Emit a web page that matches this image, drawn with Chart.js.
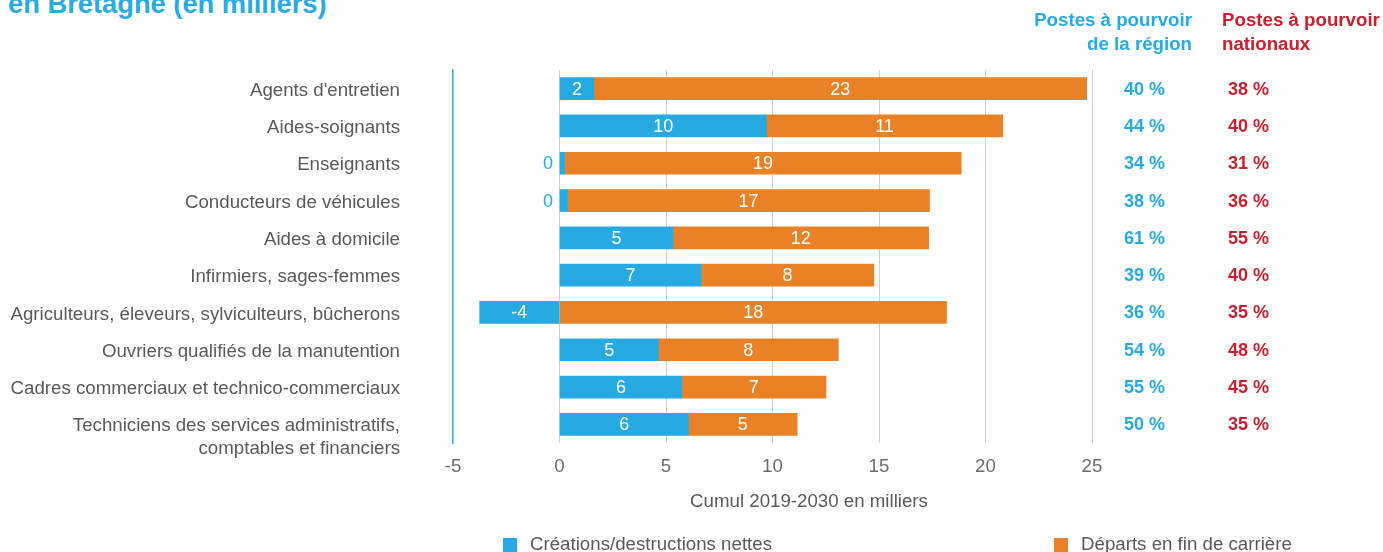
<!DOCTYPE html>
<html><head><meta charset="utf-8">
<script src="https://cdn.jsdelivr.net/npm/chart.js@4/dist/chart.umd.min.js"></script>
<style>
html,body{margin:0;padding:0;background:#fff;overflow:hidden}
#wrap{position:relative;width:1383px;height:552px}
#title{position:absolute;left:8px;top:-10px;font:bold 27.3px "Liberation Sans",Arial,sans-serif;line-height:27px;color:#29abe2;white-space:nowrap}
canvas{position:absolute;left:0;top:0}
</style></head><body>
<div id="wrap"><div id="title">en Bretagne (en milliers)</div><canvas id="c" width="1383" height="552"></canvas></div>
<script>
const categories = [
  "Agents d'entretien",
  "Aides-soignants",
  "Enseignants",
  "Conducteurs de véhicules",
  "Aides à domicile",
  "Infirmiers, sages-femmes",
  "Agriculteurs, éleveurs, sylviculteurs, bûcherons",
  "Ouvriers qualifiés de la manutention",
  "Cadres commerciaux et technico-commerciaux",
  ["", "Techniciens des services administratifs,", "comptables et financiers"]
];
const netChange   = [1.61, 9.71, 0.24, 0.37, 5.33, 6.65, -3.75, 4.64, 5.74, 6.05];
const retirements = [23.14, 11.10, 18.62, 17.00, 12.00, 8.11, 18.17, 8.45, 6.77, 5.11];
const regionShare   = [40, 44, 34, 38, 61, 39, 36, 54, 55, 50];
const nationalShare = [38, 40, 31, 36, 55, 40, 35, 48, 45, 35];
const seriesLabels = ["Créations/destructions nettes", "Départs en fin de carrière"];
const regionHeader = ["Postes à pourvoir", "de la région"];
const nationalHeader = ["Postes à pourvoir", "nationaux"];
const xAxisTitle = "Cumul 2019-2030 en milliers";

const BLUE = '#27aae1', ORANGE = '#e98226', RED = '#c9202f';
const FONT = '"Liberation Sans", Arial, sans-serif';
const FS = 18.7;

const extras = {
  id: 'extras',
  afterDatasetsDraw(chart) {
    const ctx = chart.ctx;
    ctx.save();
    ctx.font = '18px ' + FONT;
    ctx.textBaseline = 'middle';
    chart.data.datasets.forEach((ds, di) => {
      const meta = chart.getDatasetMeta(di);
      meta.data.forEach((el, i) => {
        const v = Math.round(ds.data[i]);
        const txt = String(v);
        if (v === 0) {
          ctx.fillStyle = BLUE;
          ctx.textAlign = 'right';
          ctx.fillText(txt, Math.min(el.x, el.base) - 7, el.y + 1);
        } else {
          ctx.fillStyle = '#ffffff';
          ctx.textAlign = 'center';
          ctx.fillText(txt, (el.x + el.base) / 2, el.y + 1);
        }
      });
    });
    ctx.restore();
  },
  afterDraw(chart) {
    const ctx = chart.ctx;
    const y = chart.scales.y;
    ctx.save();
    ctx.textBaseline = 'middle';
    ctx.font = 'bold ' + FS + 'px ' + FONT;
    ctx.fillStyle = BLUE; ctx.textAlign = 'right';
    regionHeader.forEach((t, k) => ctx.fillText(t, 1192, 21 + k * 24));
    ctx.fillStyle = RED; ctx.textAlign = 'left';
    nationalHeader.forEach((t, k) => ctx.fillText(t, 1222, 21 + k * 24));
    ctx.font = 'bold 18px ' + FONT;
    categories.forEach((c, i) => {
      const py = y.getPixelForValue(i) + 1;
      ctx.fillStyle = BLUE; ctx.textAlign = 'left';
      ctx.fillText(regionShare[i] + ' %', 1124, py);
      ctx.fillStyle = RED;
      ctx.fillText(nationalShare[i] + ' %', 1228, py);
    });
    ctx.font = FS + 'px ' + FONT;
    ctx.fillStyle = '#595959';
    ctx.textAlign = 'center';
    ctx.fillText(xAxisTitle, 809, 502);
    const legendX = [503, 1054];
    chart.data.datasets.forEach((ds, di) => {
      ctx.fillStyle = ds.backgroundColor;
      ctx.fillRect(legendX[di], 538, 14, 14);
      ctx.fillStyle = '#595959';
      ctx.textAlign = 'left';
      ctx.fillText(ds.label, legendX[di] + 27, 545);
    });
    ctx.restore();
  }
};

new Chart(document.getElementById('c'), {
  type: 'bar',
  data: {
    labels: categories,
    datasets: [
      { label: seriesLabels[0], data: netChange, backgroundColor: BLUE, barThickness: 22 },
      { label: seriesLabels[1], data: retirements, backgroundColor: ORANGE, barThickness: 22 }
    ]
  },
  options: {
    indexAxis: 'y',
    responsive: false,
    animation: false,
    layout: { padding: { top: 70, right: 291, bottom: 39, left: 0 } },
    plugins: { legend: { display: false }, tooltip: { enabled: false } },
    scales: {
      x: {
        type: 'linear', stacked: true, min: -5, max: 25,
        afterFit: s => { s.height = 70; s.paddingLeft = 0; s.paddingRight = 0; },
        ticks: { stepSize: 5, padding: 13, color: '#6b6b6b', font: { family: FONT, size: FS } },
        grid: { drawTicks: false, color: c => (c.tick && c.tick.value === -5) ? 'rgba(0,0,0,0)' : '#cfcfcf', lineWidth: 1 },
        border: { display: false },
        title: { display: false }
      },
      y: {
        stacked: true,
        afterFit: s => { s.width = 453; s.paddingTop = 0; s.paddingBottom = 0; },
        ticks: { autoSkip: false, padding: 53, labelOffset: 2, color: '#595959', font: { family: FONT, size: FS, lineHeight: 1.22 } },
        grid: { display: false, drawTicks: false },
        border: { display: true, color: BLUE, width: 1.5 }
      }
    }
  },
  plugins: [extras]
});
</script>
</body></html>
